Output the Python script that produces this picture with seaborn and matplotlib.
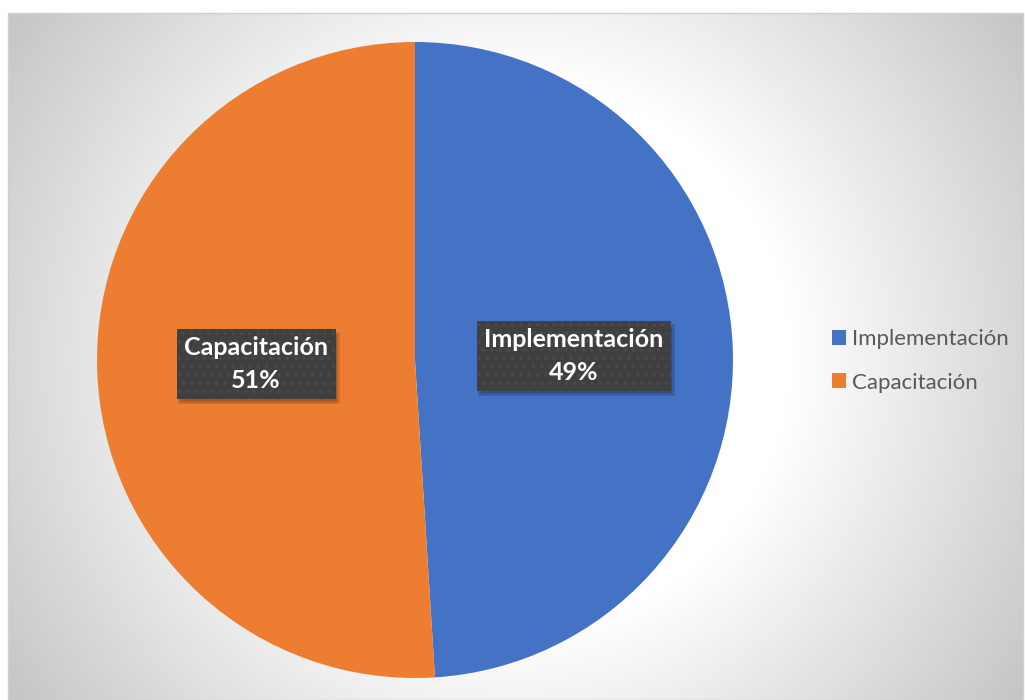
import numpy as np
import matplotlib
matplotlib.use("Agg")
import matplotlib.pyplot as plt
import seaborn as sns
from matplotlib.patches import Rectangle

# ---- data ----
categories = ["Implementación", "Capacitación"]
values = [49, 51]
pct_labels = ["49%", "51%"]

sns.set_theme(style="white")
plt.rcParams['font.family'] = ['Lato', 'DejaVu Sans']
colors = ["#4472C4", "#ED7D31"]

W, H = 1025, 700
fig = plt.figure(figsize=(W / 100, H / 100), dpi=100)
ax = fig.add_axes([0, 0, 1, 1])
ax.set_xlim(0, W)
ax.set_ylim(0, H)
ax.axis("off")

# chart area background: radial gradient
x0, x1, y0, y1 = 8, 1023, 0, 687
cx, cy = (x0 + x1) / 2, (y0 + y1) / 2
xs = np.linspace(x0, x1, 400)
ys = np.linspace(y0, y1, 300)
XX, YY = np.meshgrid(xs, ys)
R = np.hypot(XX - cx, YY - cy)
Rmax = np.hypot(x1 - cx, y1 - cy)
t = np.clip((R / Rmax - 0.45) / 0.55, 0, 1)
g = (255 - t * 58) / 255.0
img = np.dstack([g, g, g])
ax.imshow(img, extent=(x0, x1, y0, y1), origin="lower", zorder=0, aspect="auto")
ax.add_patch(Rectangle((x0, y0), x1 - x0, y1 - y0, fill=False, edgecolor="#d0d0d0", lw=1, zorder=1))

# pie
center = (415, H - 360)
radius = 318
wedges, _ = ax.pie(values, colors=colors, startangle=90, counterclock=False,
                   center=center, radius=radius, frame=True,
                   wedgeprops=dict(linewidth=0, zorder=2))
ax.set_xlim(0, W)
ax.set_ylim(0, H)
ax.set_aspect("equal")
ax.axis("off")

# data labels
label_pos = [(574, H - 356), (256, H - 364)]
texts = []
for (lx, ly), cat, pct in zip(label_pos, categories, pct_labels):
    txt = f"{cat}\n{pct}"
    t_ = ax.text(lx, ly, txt, ha="center", va="center", fontsize=18, fontweight="bold",
                 color="white", linespacing=1.5, zorder=4,
                 bbox=dict(boxstyle="square,pad=0.3", facecolor="#404040", edgecolor="#4b4b4b",
                           hatch="..", linewidth=0))
    texts.append(t_)

fig.canvas.draw()
inv = ax.transData.inverted()
for t_ in texts:
    bb = t_.get_bbox_patch().get_window_extent()
    (bx0, by0), (bx1, by1) = inv.transform([[bb.x0, bb.y0], [bb.x1, bb.y1]])
    for k, a in [(0, 0.10), (1.5, 0.10), (3, 0.12)]:
        ax.add_patch(Rectangle((bx0 + 1 + k, by0 - 5 + k), bx1 - bx0 + 3 - 2 * k, by1 - by0 + 2 - 2 * k,
                               facecolor=(0, 0, 0, a), edgecolor="none", zorder=3))

# legend
handles = [Rectangle((0, 0), 1, 1, facecolor=c, edgecolor="none") for c in colors]
leg = ax.legend(handles, categories, loc="center left", bbox_to_anchor=(832 / W, 1 - 361 / H),
                frameon=False, fontsize=16, handlelength=0.65, handleheight=0.65,
                handletextpad=0.25, labelspacing=1.05, borderaxespad=0, borderpad=0)
for tx in leg.get_texts():
    tx.set_color("#595959")

fig.savefig("out.png", dpi=100, facecolor="white")
